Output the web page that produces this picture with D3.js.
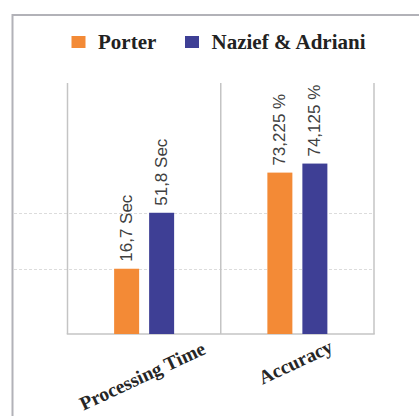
<!DOCTYPE html>
<html>
<head>
<meta charset="utf-8">
<script src="https://cdn.jsdelivr.net/npm/d3@7"></script>
<style>
  html, body { margin: 0; padding: 0; background: #fff; }
  svg { display: block; }
</style>
</head>
<body>
<svg width="419" height="416"></svg>
<script>
// chart data (bar heights on a 0-100 scale)
const categories = ["Processing Time", "Accuracy"];
const seriesNames = ["Porter", "Nazief & Adriani"];
const porterValues = [26.0, 64.3];
const naziefValues = [48.3, 67.9];
const porterLabels = ["16,7 Sec", "73,225 %"];
const naziefLabels = ["51,8 Sec", "74,125 %"];
const gridValues = [26.0, 48.3];

const colors = ["#F38A36", "#3E3F95"];

let svg = d3.select("svg");

// outer frame
svg.append("rect")
    .attr("x", 12.5).attr("y", 15)
    .attr("width", 440).attr("height", 440)
    .attr("fill", "none")
    .attr("stroke", "#b2b2b8")
    .attr("stroke-width", 2);

let plot = {left: 67.5, right: 374, top: 83, bottom: 334};

let x = d3.scaleBand()
    .domain(categories)
    .range([plot.left, plot.right])
    .padding(0);

let xInner = d3.scaleBand()
    .domain(seriesNames)
    .range([-30, 30])
    .paddingInner(0.2857)
    .paddingOuter(0);

let y = d3.scaleLinear()
    .domain([0, 100])
    .range([plot.bottom, plot.top]);

// dashed grid lines
svg.selectAll(".grid")
    .data(gridValues)
    .enter().append("line")
    .attr("class", "grid")
    .attr("x1", 14).attr("x2", plot.right)
    .attr("y1", d => Math.round(y(d)) + 0.5)
    .attr("y2", d => Math.round(y(d)) + 0.5)
    .attr("stroke", "#dcdcdc")
    .attr("stroke-dasharray", "3,2");

// category separators
let seps = categories.map(c => x(c)).concat([plot.right]);
svg.selectAll(".sep")
    .data(seps)
    .enter().append("line")
    .attr("class", "sep")
    .attr("x1", d => d).attr("x2", d => d)
    .attr("y1", plot.top).attr("y2", plot.bottom)
    .attr("stroke", "#c4c4c4")
    .attr("stroke-width", 1.5);

svg.append("line")
    .attr("x1", plot.left - 0.75).attr("x2", plot.right + 0.75)
    .attr("y1", plot.bottom).attr("y2", plot.bottom)
    .attr("stroke", "#c4c4c4")
    .attr("stroke-width", 1.5);

// bars
let rows = [];
for (let i = 0; i < categories.length; i++) {
    rows.push({cat: categories[i], s: seriesNames[0], v: porterValues[i], label: porterLabels[i], k: 0});
    rows.push({cat: categories[i], s: seriesNames[1], v: naziefValues[i], label: naziefLabels[i], k: 1});
}

svg.selectAll(".bar")
    .data(rows)
    .enter().append("rect")
    .attr("class", "bar")
    .attr("x", d => x(d.cat) + x.bandwidth() / 2 + xInner(d.s))
    .attr("y", d => y(d.v))
    .attr("width", xInner.bandwidth())
    .attr("height", d => plot.bottom - y(d.v))
    .attr("fill", d => colors[d.k]);

// value labels
svg.selectAll(".vlabel")
    .data(rows)
    .enter().append("text")
    .attr("class", "vlabel")
    .attr("transform", d => {
        let cx = x(d.cat) + x.bandwidth() / 2 + xInner(d.s) + xInner.bandwidth() / 2;
        return "translate(" + cx + "," + (y(d.v) - 7) + ") rotate(-90)";
    })
    .attr("dominant-baseline", "central")
    .attr("font-family", "'Liberation Sans', Arial, sans-serif")
    .attr("font-size", 17)
    .attr("fill", "#404040")
    .text(d => d.label);

// category labels
svg.selectAll(".clabel")
    .data(categories)
    .enter().append("text")
    .attr("class", "clabel")
    .attr("transform", d => "translate(" + (x(d) + x.bandwidth() / 2 + 1) + "," + (d === "Accuracy" ? 368 : 382) + ") rotate(-25)")
    .attr("text-anchor", "middle")
    .attr("font-family", "'Liberation Serif', serif")
    .attr("font-weight", "bold")
    .attr("font-size", 19.5)
    .attr("fill", "#262626")
    .text(d => d);

// legend
let legendX = [71.5, 185];
let legend = svg.selectAll(".leg")
    .data(seriesNames)
    .enter().append("g")
    .attr("class", "leg")
    .attr("transform", (d, i) => "translate(" + legendX[i] + ",36)");

legend.append("rect")
    .attr("width", 14).attr("height", 12)
    .attr("fill", (d, i) => colors[i]);

legend.append("text")
    .attr("x", 26.5).attr("y", 13)
    .attr("font-family", "'Liberation Serif', serif")
    .attr("font-weight", "bold")
    .attr("font-size", 21)
    .attr("fill", "#222")
    .text(d => d);
</script>
</body>
</html>
